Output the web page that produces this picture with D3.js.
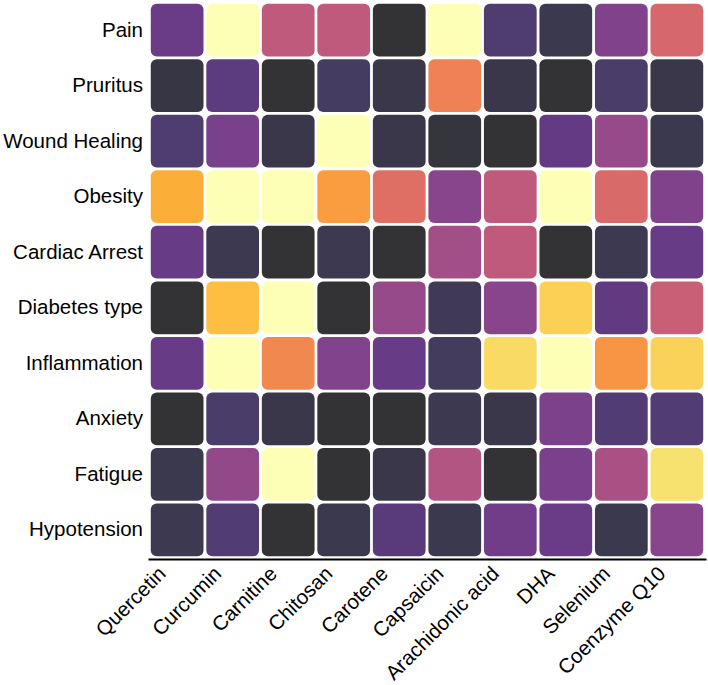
<!DOCTYPE html>
<html><head><meta charset="utf-8">
<script src="https://cdn.jsdelivr.net/npm/d3@7"></script>
<style>body{margin:0;background:#fff}svg{display:block}text{font-family:"Liberation Sans",Arial,Helvetica,sans-serif}</style>
</head><body><svg id="c" width="708" height="685"></svg>
<script>
const supplements = ["Quercetin","Curcumin","Carnitine","Chitosan","Carotene","Capsaicin","Arachidonic acid","DHA","Selenium","Coenzyme Q10"];
const conditions = ["Pain","Pruritus","Wound Healing","Obesity","Cardiac Arrest","Diabetes type","Inflammation","Anxiety","Fatigue","Hypotension"];
const painVals         = [21,100,47,47,0,100,13,6,27,55];
const pruritusVals     = [4,17,0,10,5,65,5,0,12,5];
const woundVals        = [13,25,5,100,5,2,0,19,34,6];
const obesityVals      = [78,100,100,73,58,30,47,100,56,27];
const cardiacVals      = [20,7,0,7,0,38,47,0,7,20];
const diabetesVals     = [0,82,100,0,34,8,30,86,18,50];
const inflammationVals = [20,100,67,28,20,9,89,100,71,87];
const anxietyVals      = [0,12,5,0,0,7,5,26,14,14];
const fatigueVals      = [6,33,100,0,5,43,0,25,40,91];
const hypotensionVals  = [7,14,0,6,16,6,23,21,6,30];
const rows = [painVals,pruritusVals,woundVals,obesityVals,cardiacVals,diabetesVals,inflammationVals,anxietyVals,fatigueVals,hypotensionVals];

const cells = [];
rows.forEach((r,i)=>r.forEach((v,j)=>cells.push({cond:conditions[i],sup:supplements[j],v})));

const svg = d3.select("#c");
const x = d3.scaleBand().domain(supplements).range([148,706]).padding(0.05);
const y = d3.scaleBand().domain(conditions).range([1,559]).padding(0.05);
const color = d3.scaleSequential(d3.interpolateInferno).domain([0,100]);

svg.selectAll("rect.cell").data(cells).join("rect")
  .attr("class","cell")
  .attr("x",d=>x(d.sup)).attr("y",d=>y(d.cond))
  .attr("width",x.bandwidth()).attr("height",y.bandwidth())
  .attr("rx",6).attr("ry",6)
  .attr("fill",d=>color(d.v)).attr("fill-opacity",0.8);

const xa = svg.append("g").attr("transform","translate(0,559)")
  .call(d3.axisBottom(x).tickSize(0).tickPadding(0));
xa.select(".domain").attr("stroke","#000").attr("stroke-width",2);
xa.selectAll(".tick text")
  .attr("font-size",20.5).attr("fill","#000")
  .attr("text-anchor","end")
  .attr("x",0).attr("y",0).attr("dy",0)
  .attr("transform","translate(-10,16) rotate(-45)");

const ya = svg.append("g").attr("transform","translate(148,0)")
  .call(d3.axisLeft(y).tickSize(0).tickPadding(5));
ya.select(".domain").remove();
ya.selectAll("text").attr("font-size",20.5).attr("fill","#000");
</script></body></html>
